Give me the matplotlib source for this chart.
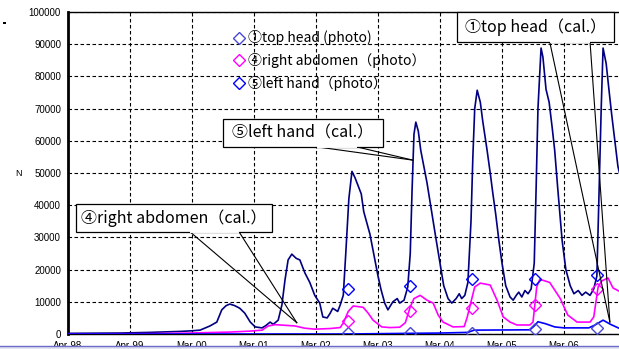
import numpy as np
import matplotlib.pyplot as plt
from matplotlib.patches import Rectangle
from matplotlib.lines import Line2D

# x = years since Apr-98
tick_pos = [0, 1, 2, 3, 4, 5, 6, 7, 8]
tick_labels = ['Apr-98', 'Apr-99', 'Mar-00', 'Mar-01', 'Mar-02',
               'Mar-03', 'Mar-04', 'Mar-05', 'Mar-06']

# (5) left hand (cal.)
hand_t = [0.00, 0.84, 1.32, 1.81, 2.00, 2.13, 2.29, 2.40, 2.48, 2.55, 2.61, 2.69,
          2.77, 2.85, 2.94, 3.02, 3.13, 3.19, 3.26, 3.31, 3.39, 3.45, 3.50, 3.55,
          3.61, 3.68, 3.74, 3.82, 3.90, 3.98, 4.06, 4.11, 4.18, 4.23, 4.27, 4.35,
          4.39, 4.44, 4.48, 4.53, 4.58, 4.63, 4.68, 4.73, 4.77, 4.82, 4.87, 4.94,
          5.00, 5.05, 5.11, 5.16, 5.24, 5.31, 5.35, 5.42, 5.48, 5.52, 5.55, 5.58,
          5.61, 5.65, 5.69, 5.74, 5.79, 5.84, 5.89, 5.94, 6.00, 6.06, 6.13, 6.19,
          6.26, 6.31, 6.35, 6.40, 6.45, 6.50, 6.53, 6.56, 6.60, 6.65, 6.69, 6.76,
          6.81, 6.85, 6.90, 6.95, 7.00, 7.06, 7.13, 7.18, 7.23, 7.27, 7.32, 7.37,
          7.42, 7.47, 7.52, 7.55, 7.58, 7.63, 7.66, 7.71, 7.76, 7.81, 7.85, 7.90,
          7.97, 8.03, 8.10, 8.16, 8.23, 8.29, 8.35, 8.42, 8.48, 8.53, 8.56, 8.60,
          8.63, 8.68, 8.73, 8.77, 8.82, 8.87, 8.92]
hand_v = [200, 300, 500, 800, 1000, 1200, 2500, 3700, 7500, 8800, 9300, 8800,
          8000, 6500, 3700, 2200, 1900, 2600, 3700, 3000, 4300, 9000, 16800, 23000,
          24800, 23500, 23000, 19000, 16000, 12000, 9600, 5300, 5000, 6500, 8000, 7000,
          9000, 12000, 25000, 42000, 50500, 48500, 46000, 43500, 38000, 34500, 31000, 24000,
          18000, 13700, 9500, 7500, 10000, 11000, 9600, 10500, 14600, 25000, 45000, 62000,
          65800, 63000, 57000, 52000, 47000, 41000, 35000, 29000, 22000, 15000, 11000, 9600,
          11000, 12500, 11000, 12000, 16000, 35000, 55000, 70000, 75700, 72000, 66000, 57000,
          50000, 44000, 37000, 29000, 22000, 15000, 11500, 10500, 12000, 13000, 11500, 13500,
          12500, 14000, 22000, 45000, 70000, 88800, 86000, 76000, 72000, 64000, 57000, 45000,
          29000, 20000, 15000, 12500, 13500, 12000, 13000, 12000, 14000, 18000, 40000, 70000,
          88800, 84000, 75000, 68000, 60000, 52000, 48000]

# (4) right abdomen (cal.)
abd_t = [0.00, 1.32, 1.97, 2.61, 2.94, 3.13, 3.23, 3.34, 3.50, 3.66, 3.82, 3.98,
         4.23, 4.39, 4.44, 4.52, 4.60, 4.68, 4.76, 4.84, 4.92, 5.06, 5.19, 5.35,
         5.44, 5.52, 5.58, 5.68, 5.79, 5.89, 5.97, 6.05, 6.21, 6.39, 6.44, 6.50,
         6.56, 6.65, 6.81, 6.92, 7.02, 7.13, 7.24, 7.45, 7.50, 7.56, 7.61, 7.77,
         7.94, 8.06, 8.21, 8.42, 8.48, 8.55, 8.61, 8.71, 8.79, 8.92]
abd_v = [0, 100, 300, 600, 900, 1200, 2500, 2900, 2700, 2500, 1800, 1500,
         1700, 2000, 3400, 7000, 8700, 8500, 8300, 6500, 4300, 2200, 2000, 2100,
         3500, 8400, 11000, 12000, 10500, 9600, 5900, 3700, 2200, 2300, 5300, 10000,
         14600, 15800, 15200, 10500, 5300, 3700, 2800, 2800, 3700, 14600, 17000, 16000,
         11000, 5900, 3700, 3700, 5300, 14600, 16500, 17400, 14300, 13000]

# (1) top head (cal.)
head_t = [0.00, 4.50, 5.00, 5.50, 6.00, 6.45, 6.55, 7.45, 7.52, 7.58, 7.70, 7.85,
          8.00, 8.40, 8.50, 8.63, 8.75, 8.92]
head_v = [0, 0, 100, 200, 300, 500, 1200, 1300, 2500, 3800, 3200, 2200,
          1900, 1900, 2800, 4300, 3000, 1500]

# photo measurements
photo_t = [4.52, 5.52, 6.52, 7.53, 8.53]
head_photo = [300, 200, 300, 1500, 1900]
abd_photo = [4000, 7200, 8000, 9000, 14000]
hand_photo = [14000, 14900, 17000, 17000, 18300]

cjk = ['Noto Sans CJK JP', 'DejaVu Sans']

fig = plt.figure(figsize=(6.19, 3.49), dpi=100)
ax = fig.add_axes([68 / 619, 15 / 349, 589 / 619, 322 / 349])

ax.plot(hand_t, hand_v, color='#000080', lw=1.2, zorder=3)
ax.plot(abd_t, abd_v, color='#ff00ff', lw=1.2, zorder=3)
ax.plot(head_t, head_v, color='#0000ff', lw=1.2, zorder=3)

mk = dict(marker='D', ms=6.5, mfc='none', mew=1.0, ls='none', zorder=4)
h1, = ax.plot(photo_t, head_photo, mec='#4a4ad0', label='①top head (photo)', **mk)
h4, = ax.plot(photo_t, abd_photo, mec='#ff00ff', label='④right abdomen（photo）', **mk)
h5, = ax.plot(photo_t, hand_photo, mec='#0000ff', label='⑤left hand（photo）', **mk)

ax.set_xlim(0, 9.5)
ax.set_ylim(0, 100000)
ax.set_yticks(np.arange(0, 100001, 10000))
ax.set_yticklabels([str(v) for v in range(0, 100001, 10000)])
ax.set_xticks(tick_pos)
ax.set_xticklabels(tick_labels)
ax.tick_params(axis='both', length=0, labelsize=7, colors='black')
ax.tick_params(axis='y', pad=5)
ax.tick_params(axis='x', pad=5)
for lab in ax.get_xticklabels() + ax.get_yticklabels():
    lab.set_family('Liberation Sans')

ax.grid(True, color='black', lw=0.8, ls=(0, (3.2, 2.2)))
ax.set_axisbelow(True)
ax.spines['left'].set_linewidth(2.0)
ax.spines['top'].set_linewidth(1.0)
ax.spines['bottom'].set_linewidth(1.0)
ax.spines['right'].set_visible(False)

leg = ax.legend(handles=[h1, h4, h5], loc='upper left',
                bbox_to_anchor=(0.272, 0.96), frameon=False,
                prop={'family': cjk, 'size': 10}, handlelength=0.8,
                handletextpad=0.2, labelspacing=0.55, borderaxespad=0)


def callout(text, x0, x1, y0, y1, b0, b1, tip):
    ax.add_patch(Rectangle((x0, y1), x1 - x0, y0 - y1, facecolor='white',
                           edgecolor='black', lw=0.9, zorder=6, clip_on=False))
    ax.text((x0 + x1) / 2, (y0 + y1) / 2, text, ha='center', va='center',
            family=cjk, fontsize=11.5, zorder=7)
    ax.plot([b0, tip[0]], [y1, tip[1]], color='black', lw=0.8, zorder=5)
    ax.plot([b1, tip[0]], [y1, tip[1]], color='black', lw=0.8, zorder=5)
    ax.plot([b0 + 0.02, b1 - 0.02], [y1, y1], color='white', lw=1.4, zorder=6.5)


callout('①top head（cal.）', 6.27, 8.81, 100000, 90700, 7.77, 8.42, (8.74, 3700))
callout('⑤left hand（cal.）', 2.50, 5.08, 66800, 58100, 4.02, 4.66, (5.56, 54000))
callout('④right abdomen（cal.）', 0.13, 3.29, 40400, 31700, 1.97, 2.76, (3.69, 3500))

fig.text(18 / 619, 1 - 173 / 349, 'N', fontsize=6.5, family='Liberation Sans',
         ha='center', va='center')
fig.add_artist(Rectangle((3 / 619, 1 - 24 / 349), 2.5 / 619, 2.5 / 349,
                         facecolor='black', edgecolor='none',
                         transform=fig.transFigure))

# slide edge at the bottom
fig.add_artist(Rectangle((0, 0), 1, 2.5 / 349, facecolor='#e2e2f2',
                         edgecolor='none', transform=fig.transFigure, zorder=10))
fig.add_artist(Line2D([0, 1], [2.8 / 349, 2.8 / 349], color='#6c6cc8', lw=1.0,
                      transform=fig.transFigure, zorder=11))

fig.savefig('out.png', dpi=100)
